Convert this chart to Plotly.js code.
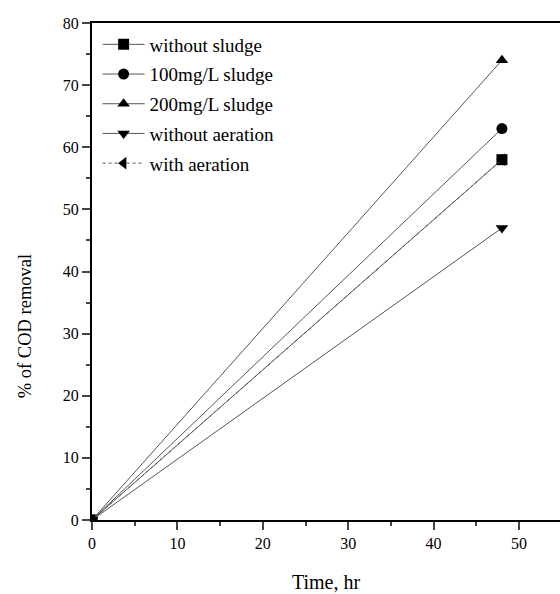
<!DOCTYPE html>
<html><head><meta charset="utf-8">
<script src="https://cdn.plot.ly/plotly-2.35.2.min.js"></script>
<style>html,body{margin:0;padding:0;background:#fff}</style>
</head><body>
<div id="chart" style="width:560px;height:594px"></div>
<script>
const time = [0, 48];
const seriesNames = ["without sludge", "100mg/L sludge", "200mg/L sludge", "without aeration", "with aeration"];
const withoutSludge = [0, 58];
const sludge100 = [0, 63];
const sludge200 = [0, 74];
const withoutAeration = [0, 47];
const withAeration = [0, 58];
const xTicks = [0, 10, 20, 30, 40, 50];
const yTicks = [0, 10, 20, 30, 40, 50, 60, 70, 80];
const xTitle = "Time, hr";
const yTitle = "% of COD removal";

const values = [withoutSludge, sludge100, sludge200, withoutAeration, withAeration];
const symbols = ["square", "circle", "triangle-up", "triangle-down", "triangle-left"];
const dashes = ["solid", "solid", "solid", "solid", "dot"];

const traces = values.map((v, i) => ({
  x: time, y: v, name: seriesNames[i], legendgroup: "g" + i, type: "scatter", mode: "lines+markers",
  line: {color: "#555", width: 1, dash: dashes[i]},
  marker: {symbol: symbols[i], size: 11, color: "#000"}
}));

const fam = "Liberation Serif";
const font = {family: fam, color: "#000"};
const layout = {
  width: 560, height: 594,
  margin: {l: 92, r: 0, t: 23, b: 74},
  paper_bgcolor: "#fff", plot_bgcolor: "#fff",
  font: Object.assign({size: 16}, font),
  showlegend: true,
  legend: {x: 0.012, y: 0.995, xanchor: "left", yanchor: "top", bgcolor: "rgba(0,0,0,0)",
           font: Object.assign({size: 19}, font), tracegroupgap: 2, itemwidth: 42},
  xaxis: {range: [0, 54.8], tickvals: xTicks, ticks: "outside", ticklen: 8, tickwidth: 2,
          showline: true, linewidth: 2, linecolor: "#000", mirror: true, showgrid: false, zeroline: false,
          minor: {dtick: 5, tick0: 0, ticks: "outside", ticklen: 4, tickwidth: 2, showgrid: false},
          tickfont: Object.assign({size: 16}, font),
          title: {text: xTitle, font: Object.assign({size: 20}, font), standoff: 24}},
  yaxis: {range: [0, 80], tickvals: yTicks, ticks: "outside", ticklen: 8, tickwidth: 2,
          showline: true, linewidth: 2, linecolor: "#000", showgrid: false, zeroline: false,
          minor: {dtick: 5, tick0: 0, ticks: "outside", ticklen: 4, tickwidth: 2, showgrid: false},
          tickfont: Object.assign({size: 16}, font)},
  annotations: [{text: yTitle, textangle: -90, xref: "paper", yref: "paper",
                 x: -0.143, y: 0.39, xanchor: "center", yanchor: "middle", showarrow: false,
                 font: Object.assign({size: 18.5}, font)}]
};
Plotly.newPlot("chart", traces, layout, {displayModeBar: false, staticPlot: true});
</script>
</body></html>
